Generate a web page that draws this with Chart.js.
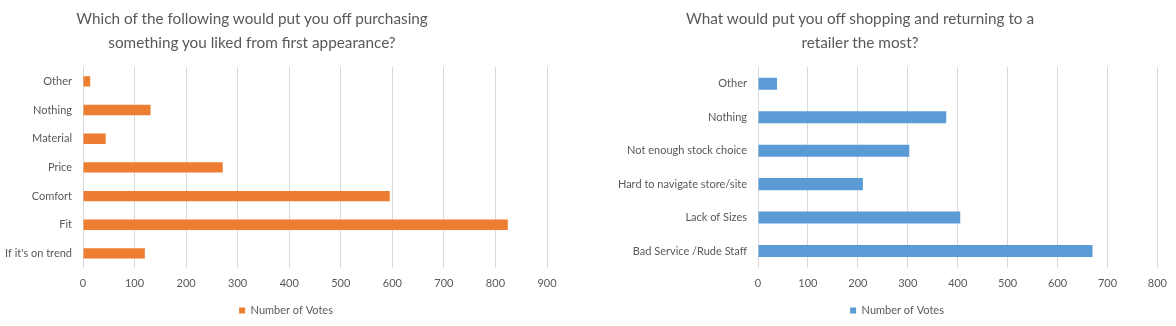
<!DOCTYPE html>
<html>
<head>
<meta charset="utf-8">
<style>
  html, body { margin: 0; padding: 0; background: #fff; }
  .wrap { position: absolute; top: 0; height: 326px; width: 588px; }
  #left { left: 0; }
  #right { left: 588px; }
  .title {
    position: absolute; top: 6px; width: 500px;
    font-family: Lato, "Open Sans", sans-serif; font-size: 15.3px; line-height: 24px;
    color: #595959; text-align: center; white-space: nowrap;
  }
  #leftTitle { left: 2px; }
  #rightTitle { left: 610px; }
</style>
<script src="https://cdn.jsdelivr.net/npm/chart.js@4.4.0/dist/chart.umd.min.js"></script>
</head>
<body>
<div class="wrap" id="left"><canvas id="purchaseChart"></canvas></div>
<div class="wrap" id="right"><canvas id="retailerChart"></canvas></div>
<div class="title" id="leftTitle">Which of the following would put you off purchasing<br>something you liked from first appearance?</div>
<div class="title" id="rightTitle">What would put you off shopping and returning to a<br>retailer the most?</div>
<script>
// Survey answers, top row first
const purchaseLabels = ['Other', 'Nothing', 'Material', 'Price', 'Comfort', 'Fit', "If it's on trend"];
const purchaseVotes = [14, 131, 44, 271, 595, 824, 120];

const retailerLabels = ['Other', 'Nothing', 'Not enough stock choice', 'Hard to navigate store/site', 'Lack of Sizes', 'Bad Service /Rude Staff'];
const retailerVotes = [38, 377, 303, 210, 405, 670];

const FONT = 'Lato, "Open Sans", sans-serif';
const TEXT = '#595959';
const GRID = '#d9d9d9';

// nudge the bottom legend sideways after layout
const legendShift = {
    id: 'legendShift',
    afterLayout(chart, args, opts) {
        const lg = chart.legend;
        if (!lg || !opts.dx) return;
        lg.left += opts.dx;
        lg.right += opts.dx;
    }
};

function buildChart(id, labels, votes, color, max, yWidth, padRight, legendDx) {
    const ctx = document.getElementById(id).getContext('2d');
    return new Chart(ctx, {
        type: 'bar',
        data: {
            labels: labels,
            datasets: [{
                label: 'Number of Votes',
                data: votes,
                backgroundColor: color,
                borderWidth: 0,
                categoryPercentage: 1,
                barPercentage: 0.36
            }]
        },
        options: {
            indexAxis: 'y',
            responsive: true,
            maintainAspectRatio: false,
            animation: false,
            layout: { padding: { left: 0, right: padRight, top: 67, bottom: 0 } },
            plugins: {
                legendShift: { dx: legendDx },
                legend: {
                    position: 'bottom',
                    labels: {
                        color: TEXT,
                        font: { family: FONT, size: 11 },
                        boxWidth: 6,
                        boxHeight: 6,
                        padding: 6
                    }
                },
                tooltip: { enabled: false }
            },
            scales: {
                x: {
                    min: 0,
                    max: max,
                    ticks: { stepSize: 100, color: TEXT, font: { family: FONT, size: 11 }, padding: 9 },
                    grid: { color: GRID, drawTicks: false },
                    border: { display: false }
                },
                y: {
                    ticks: { color: TEXT, font: { family: FONT, size: 11 }, padding: 11 },
                    grid: { display: false, drawTicks: false },
                    border: { display: false },
                    afterFit: (scale) => { scale.width = yWidth; }
                }
            }
        },
        plugins: [legendShift]
    });
}

buildChart('purchaseChart', purchaseLabels, purchaseVotes, '#ED7D31', 900, 83, 41, 12.5);
buildChart('retailerChart', retailerLabels, retailerVotes, '#5B9BD5', 800, 170, 17, 23.5);
</script>
</body>
</html>
